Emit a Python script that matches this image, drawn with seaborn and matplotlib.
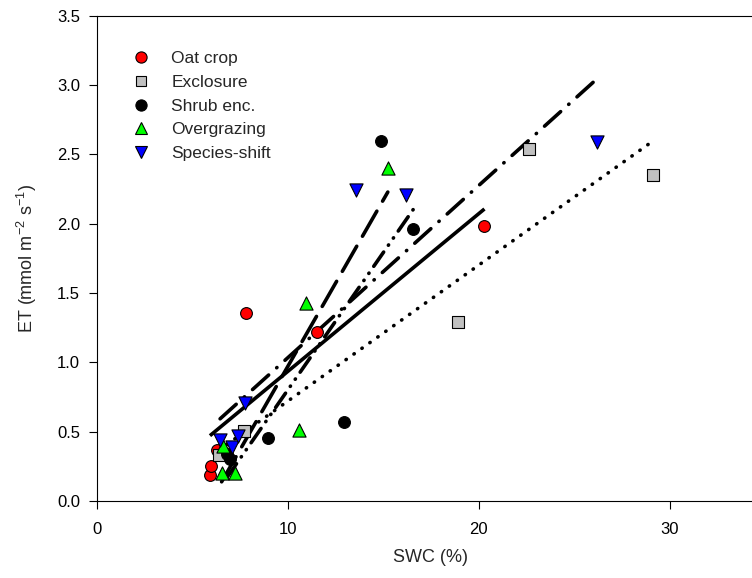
import numpy as np
import pandas as pd
import matplotlib
matplotlib.use("Agg")
import matplotlib.pyplot as plt
import seaborn as sns

# values
oat_x = [5.93, 5.98, 6.3, 7.82, 11.55, 20.3]
oat_y = [0.19, 0.25, 0.37, 1.355, 1.22, 1.98]
excl_x = [6.4, 7.73, 18.9, 22.63, 29.14]
excl_y = [0.33, 0.505, 1.29, 2.54, 2.35]
shrub_x = [6.8, 6.98, 8.99, 12.95, 14.89, 16.58]
shrub_y = [0.34, 0.30, 0.456, 0.57, 2.60, 1.96]
over_x = [6.54, 6.6, 7.24, 10.6, 10.96, 15.24]
over_y = [0.20, 0.40, 0.20, 0.51, 1.43, 2.40]
spec_x = [6.46, 7.1, 7.38, 7.76, 13.58, 16.19, 26.18]
spec_y = [0.44, 0.39, 0.47, 0.71, 2.24, 2.21, 2.59]

groups = ["Oat crop", "Exclosure", "Shrub enc.", "Overgrazing", "Species-shift"]
xs = [oat_x, excl_x, shrub_x, over_x, spec_x]
ys = [oat_y, excl_y, shrub_y, over_y, spec_y]
colors = ["#ff0000", "#c0c0c0", "#000000", "#00ff00", "#0000ff"]
markers = ["o", "s", "o", "^", "v"]
sizes = [72, 66, 72, 90, 90]
dash_styles = [None, (0.1, 2.6), (4.8, 2.3, 0.1, 2.3, 0.1, 2.3), (8.0, 3.2), (6.0, 3.0, 0.1, 3.0)]

sns.set_style("ticks")
plt.rcParams['font.family'] = ['Liberation Sans', 'DejaVu Sans']
plt.rcParams['mathtext.fontset'] = 'custom'
plt.rcParams['mathtext.rm'] = 'Liberation Sans'
plt.rcParams['axes.unicode_minus'] = False

fig = plt.figure(figsize=(7.52, 5.78), dpi=100)
ax = fig.add_axes([0.1286, 0.1332, 0.889, 0.8396])

# regression lines
for g, x, y, ds in zip(groups, xs, ys, dash_styles):
    df = pd.DataFrame({"x": x, "y": y})
    kw = dict(color="black", lw=2.6, solid_capstyle="butt")
    if ds is not None:
        kw.update(dashes=ds, dash_capstyle="round")
    sns.regplot(data=df, x="x", y="y", scatter=False, ci=None, truncate=True,
                line_kws=kw, ax=ax)

# points
handles = []
for g, x, y, c, m, s in zip(groups, xs, ys, colors, markers, sizes):
    df = pd.DataFrame({"x": x, "y": y})
    sns.scatterplot(data=df, x="x", y="y", color=c, marker=m, s=s,
                    edgecolor="black", linewidth=0.8, ax=ax, zorder=3)
    handles.append(plt.Line2D([], [], ls="none", marker=m, markersize=np.sqrt(s) * 0.95,
                              markerfacecolor=c, markeredgecolor="black",
                              markeredgewidth=0.8, label=g))

ax.set_xlim(0, 35)
ax.set_ylim(0, 3.5)
ax.set_xticks([0, 10, 20, 30])
ax.set_yticks(np.arange(0, 3.51, 0.5))
ax.set_yticklabels([f"{v:.1f}" for v in np.arange(0, 3.51, 0.5)])
ax.tick_params(labelsize=12, length=6, width=0.8, color="black", labelcolor="black")
ax.tick_params(axis="x", pad=9)
ax.tick_params(axis="y", pad=6)
for sp in ax.spines.values():
    sp.set_linewidth(0.8)
    sp.set_color("black")
ax.spines["right"].set_visible(False)

ax.set_xlabel("SWC (%)", fontsize=13, labelpad=9)
ax.set_ylabel("ET (mmol m$^{\\mathregular{-2}}$ s$^{\\mathregular{-1}}$)", fontsize=13, labelpad=13)

ax.legend(handles=handles, loc="upper left", bbox_to_anchor=(0.03, 0.942),
          frameon=False, fontsize=12.5, handletextpad=0.75, labelspacing=0.5,
          borderaxespad=0)

fig.savefig("out.png", dpi=100)
